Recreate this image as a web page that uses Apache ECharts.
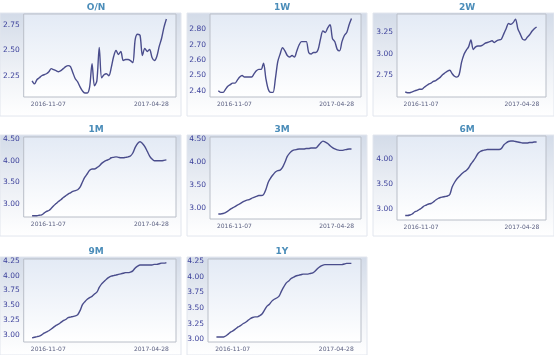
<!DOCTYPE html>
<html><head><meta charset="utf-8">
<script src="https://cdn.jsdelivr.net/npm/echarts@6/dist/echarts.min.js"></script>
<style>html,body{margin:0;padding:0;background:#fff}#c{width:554px;height:355px}</style>
</head><body><div id="c"></div>
<script>
const dates = ['2016-10-11','2016-10-15','2016-10-19','2016-10-23','2016-10-27','2016-10-31','2016-11-04','2016-11-08','2016-11-12','2016-11-16','2016-11-20','2016-11-24','2016-11-28','2016-12-02','2016-12-06','2016-12-10','2016-12-14','2016-12-18','2016-12-22','2016-12-26','2016-12-30','2017-01-03','2017-01-07','2017-01-11','2017-01-15','2017-01-19','2017-01-23','2017-01-27','2017-01-31','2017-02-04','2017-02-08','2017-02-12','2017-02-16','2017-02-20','2017-02-24','2017-02-28','2017-03-04','2017-03-08','2017-03-12','2017-03-16','2017-03-20','2017-03-24','2017-03-28','2017-04-01','2017-04-05','2017-04-09','2017-04-13','2017-04-17','2017-04-21','2017-04-25','2017-04-29','2017-05-03','2017-05-07','2017-05-11','2017-05-15','2017-05-19','2017-05-23'];
const xTicks = ['2016-11-07','2017-04-28'];
const titles = ['O/N','1W','2W','1M','3M','6M','9M','1Y'];

const onValues = [2.20,2.17,2.21,2.23,2.25,2.26,2.27,2.29,2.32,2.31,2.30,2.29,2.30,2.32,2.34,2.35,2.34,2.28,2.22,2.19,2.14,2.10,2.08,2.08,2.14,2.37,2.15,2.20,2.53,2.23,2.26,2.27,2.25,2.33,2.44,2.50,2.46,2.49,2.40,2.41,2.41,2.40,2.38,2.61,2.66,2.65,2.45,2.52,2.49,2.51,2.43,2.40,2.44,2.54,2.62,2.73,2.81];
const w1Values = [2.40,2.39,2.39,2.41,2.43,2.44,2.45,2.45,2.47,2.49,2.50,2.49,2.49,2.49,2.49,2.51,2.53,2.54,2.54,2.58,2.48,2.41,2.39,2.39,2.48,2.59,2.64,2.68,2.66,2.63,2.62,2.63,2.62,2.66,2.70,2.72,2.72,2.72,2.65,2.64,2.65,2.65,2.67,2.74,2.79,2.78,2.81,2.83,2.74,2.72,2.67,2.66,2.72,2.76,2.78,2.83,2.87];
const w2Values = [2.56,2.55,2.55,2.56,2.57,2.58,2.59,2.59,2.61,2.63,2.65,2.66,2.68,2.69,2.71,2.73,2.76,2.78,2.80,2.81,2.77,2.74,2.73,2.76,2.90,2.99,3.04,3.08,3.16,3.05,3.08,3.09,3.09,3.10,3.12,3.13,3.14,3.15,3.13,3.15,3.16,3.17,3.23,3.29,3.35,3.34,3.36,3.40,3.29,3.23,3.17,3.16,3.19,3.22,3.26,3.29,3.31];
const m1Values = [2.73,2.73,2.73,2.74,2.75,2.79,2.83,2.85,2.90,2.96,3.01,3.06,3.10,3.15,3.19,3.23,3.26,3.29,3.31,3.33,3.39,3.51,3.62,3.70,3.78,3.81,3.81,3.84,3.88,3.94,3.98,4.01,4.03,4.07,4.08,4.09,4.08,4.07,4.07,4.08,4.09,4.11,4.18,4.31,4.40,4.44,4.40,4.33,4.22,4.11,4.04,4.00,4.00,4.00,4.00,4.01,4.02];
const m3Values = [2.87,2.87,2.88,2.90,2.93,2.97,3.00,3.03,3.06,3.09,3.12,3.15,3.17,3.18,3.21,3.23,3.25,3.27,3.27,3.29,3.40,3.56,3.65,3.72,3.78,3.81,3.82,3.88,3.99,4.12,4.19,4.24,4.26,4.27,4.28,4.28,4.28,4.29,4.29,4.30,4.30,4.30,4.35,4.41,4.45,4.43,4.40,4.35,4.31,4.28,4.26,4.25,4.25,4.26,4.27,4.28,4.28];
const m6Values = [2.88,2.88,2.89,2.91,2.95,2.97,3.00,3.03,3.07,3.09,3.11,3.12,3.15,3.19,3.22,3.24,3.25,3.26,3.27,3.30,3.45,3.54,3.61,3.66,3.71,3.75,3.78,3.83,3.91,3.97,4.04,4.12,4.16,4.18,4.19,4.20,4.20,4.20,4.20,4.20,4.20,4.22,4.29,4.33,4.36,4.37,4.37,4.36,4.35,4.34,4.33,4.33,4.33,4.34,4.34,4.35,4.35];
const m9Values = [2.95,2.96,2.97,2.98,3.00,3.03,3.05,3.07,3.10,3.13,3.16,3.18,3.21,3.24,3.26,3.29,3.30,3.31,3.32,3.34,3.41,3.51,3.56,3.60,3.63,3.65,3.69,3.72,3.80,3.86,3.90,3.94,3.97,3.99,4.00,4.01,4.02,4.03,4.04,4.05,4.05,4.06,4.08,4.13,4.16,4.18,4.18,4.18,4.18,4.18,4.18,4.19,4.19,4.20,4.21,4.21,4.22];
const y1Values = [3.04,3.04,3.04,3.04,3.06,3.09,3.12,3.14,3.17,3.20,3.22,3.25,3.27,3.30,3.33,3.35,3.36,3.36,3.38,3.41,3.47,3.53,3.56,3.61,3.64,3.66,3.69,3.77,3.84,3.90,3.93,3.97,3.99,4.01,4.02,4.03,4.04,4.04,4.04,4.05,4.06,4.09,4.13,4.16,4.18,4.19,4.19,4.19,4.19,4.19,4.19,4.19,4.19,4.20,4.21,4.21,4.21];

const onTicks = [2.25,2.50,2.75];
const w1Ticks = [2.40,2.50,2.60,2.70,2.80];
const w2Ticks = [2.75,3.00,3.25];
const m1Ticks = [3.00,3.50,4.00,4.50];
const m3Ticks = [3.00,3.50,4.00,4.50];
const m6Ticks = [3.00,3.50,4.00];
const m9Ticks = [3.00,3.25,3.50,3.75,4.00,4.25];
const y1Ticks = [3.00,3.25,3.50,3.75,4.00,4.25];

const yRanges = [[2.04,2.86],[2.36,2.90],[2.50,3.46],[2.70,4.55],[2.76,4.54],[2.79,4.47],[2.88,4.28],[2.96,4.28]];

const seriesValues = [onValues,w1Values,w2Values,m1Values,m3Values,m6Values,m9Values,y1Values];
const seriesTicks = [onTicks,w1Ticks,w2Ticks,m1Ticks,m3Ticks,m6Ticks,m9Ticks,y1Ticks];

// layout (plot boxes) and outer panels
const boxes = [
  {l:22,t:14,w:154,h:83},{l:210,t:14,w:151,h:83},{l:397,t:14,w:149,h:83},
  {l:23,t:137,w:153,h:80},{l:210,t:137,w:151,h:82},{l:397,t:136,w:149,h:84},
  {l:23,t:259,w:153,h:83},{l:208,t:259,w:153,h:83}
];
const panels = [
  {x:0,y:13,w:181,h:103},{x:187,y:13,w:180,h:103},{x:373,y:13,w:181,h:103},
  {x:0,y:135,w:181,h:101},{x:187,y:135,w:180,h:101},{x:373,y:135,w:181,h:101},
  {x:0,y:257,w:181,h:98},{x:187,y:257,w:180,h:98}
];
const titleX = [96,282,467,96,282,467,96,282];
const titleY = [8,8,8,130,130,130,252,252];

const pd = s => echarts.number.parseDate(s).getTime();
const xMin = pd('2016-09-27'), xMax = pd('2017-06-08');

const grid=[],xAxis=[],yAxis=[],series=[],graphic=[];
for (let i=0;i<8;i++){
  const b=boxes[i], p=panels[i];
  graphic.push({type:'rect',z:-20,silent:true,shape:{x:p.x,y:p.y,width:p.w,height:p.h},
    style:{fill:new echarts.graphic.LinearGradient(0,0,0,1,[{offset:0,color:'#d3dbe8'},{offset:0.55,color:'#eef1f6'},{offset:1,color:'#ffffff'}]),stroke:'#e2e6ee',lineWidth:1}});
  graphic.push({type:'text',z:10,silent:true,x:titleX[i],y:titleY[i],
    style:{text:titles[i],textAlign:'center',textVerticalAlign:'middle',align:'center',verticalAlign:'middle',fill:'#4b8db9',font:'bold 9px "DejaVu Sans", sans-serif'}});
  grid.push({left:b.l,top:b.t,width:b.w,height:b.h,show:true,borderColor:'#b9bec8',borderWidth:1,
    backgroundColor:new echarts.graphic.LinearGradient(0,0,0,1,[{offset:0,color:'#e3eaf5'},{offset:1,color:'#ffffff'}])});
  xAxis.push({type:'time',gridIndex:i,min:xMin,max:xMax,
    axisLine:{show:false},axisTick:{show:false},splitLine:{show:false},
    axisLabel:{customValues:xTicks.map(pd),formatter:'{yyyy}-{MM}-{dd}',fontSize:6,color:'#5a5f80',margin:4,hideOverlap:false,showMinLabel:true,showMaxLabel:true,fontFamily:'DejaVu Sans'}});
  yAxis.push({type:'value',gridIndex:i,min:yRanges[i][0],max:yRanges[i][1],
    axisLine:{show:false},axisTick:{show:false},splitLine:{show:false},
    axisLabel:{customValues:seriesTicks[i],formatter:v=>v.toFixed(2),fontSize:7.5,color:'#3a3f9a',margin:4,fontFamily:'DejaVu Sans',showMinLabel:true,showMaxLabel:true}});
  series.push({type:'line',xAxisIndex:i,yAxisIndex:i,showSymbol:false,smooth:0.3,
    data:dates.map((d,k)=>[d,seriesValues[i][k]]),
    lineStyle:{color:'#4a4d8c',width:1.4},itemStyle:{color:'#4a4d8c'}});
}
const chart = echarts.init(document.getElementById('c'),null,{renderer:'canvas'});
chart.setOption({animation:false,grid,xAxis,yAxis,series,graphic});
</script></body></html>
